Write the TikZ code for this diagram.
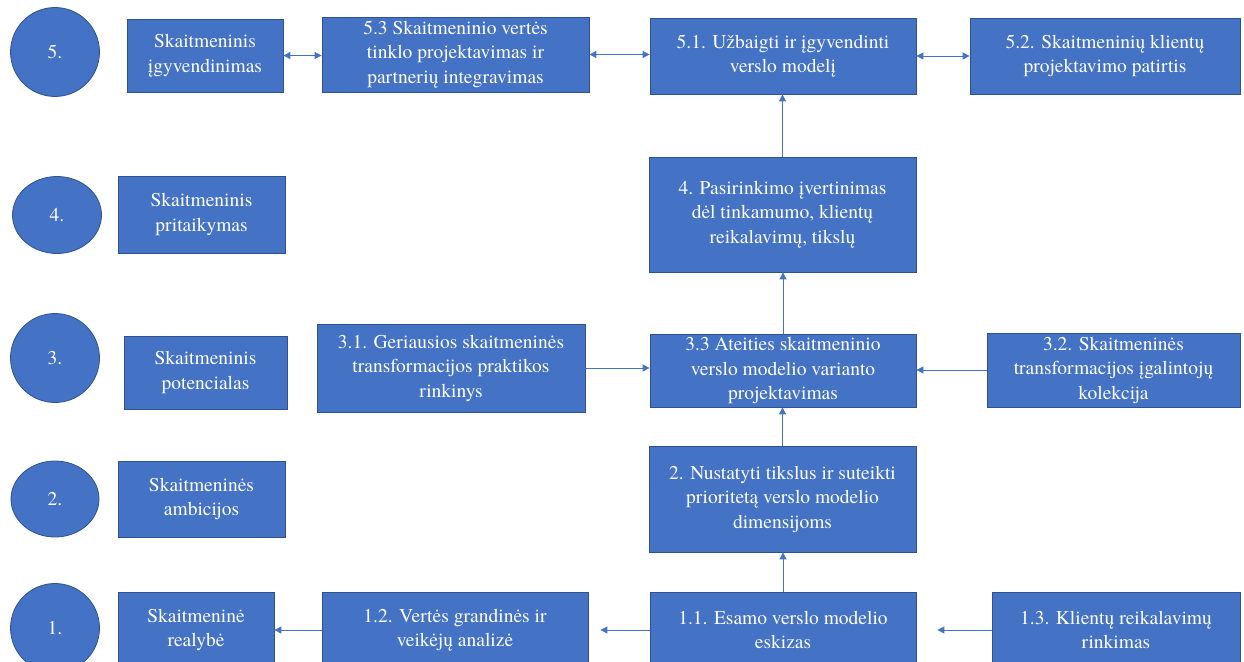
\documentclass[tikz,border=0pt]{standalone}
\usepackage{fontspec}
\setmainfont{texgyretermes}[Extension=.otf, UprightFont=*-regular, BoldFont=*-bold]
\usetikzlibrary{arrows.meta, shapes.geometric}
\definecolor{boxblue}{HTML}{4472C4}
\definecolor{boxedge}{HTML}{2F528F}

\begin{document}
\begin{tikzpicture}[x=1pt, y=-1pt,
  blok/.style={rectangle, draw=boxedge, fill=boxblue, text=white, align=center,
               inner sep=2pt, line width=0.8pt, font=\fontsize{19.5}{24.5}\selectfont},
  lygis/.style={ellipse, draw=boxedge, fill=boxblue, text=white, inner sep=0pt,
                line width=0.8pt, font=\fontsize{19.5}{24.5}\selectfont},
  arr/.style={-{Triangle[length=7pt, width=7pt]}, boxblue, line width=0.9pt},
  darr/.style={{Triangle[length=7pt, width=7pt]}-{Triangle[length=7pt, width=7pt]},
               boxblue, line width=0.9pt}]
  \useasboundingbox (0,0) rectangle (1244,661);
  \clip (0,0) rectangle (1244,661);

  % levels
  \node[lygis, minimum width=89pt, minimum height=89pt] (k5) at (55,52) {5.};
  \node[lygis, minimum width=89pt, minimum height=77pt] (k4) at (57,215) {4.};
  \node[lygis, minimum width=89pt, minimum height=89pt] (k3) at (55,358) {3.};
  \node[lygis, minimum width=88pt, minimum height=76pt] (k2) at (55,499) {2.};
  \node[lygis, minimum width=89pt, minimum height=89pt] (k1) at (55,628) {1.};

  % level names
  \node[blok, minimum width=156pt, minimum height=73pt] (l5) at (205,55.5) {Skaitmeninis\\įgyvendinimas};
  \node[blok, minimum width=167pt, minimum height=77pt] (l4) at (201.5,214.5) {Skaitmeninis\\pritaikymas};
  \node[blok, minimum width=163pt, minimum height=73pt] (l3) at (205.5,372.5) {Skaitmeninis\\potencialas};
  \node[blok, minimum width=167pt, minimum height=76pt] (l2) at (201.5,499) {Skaitmeninės\\ambicijos};
  \node[blok, minimum width=156pt, minimum height=76pt] (l1) at (196,630) {Skaitmeninė\\realybė};

  % row 5
  \node[blok, minimum width=267pt, minimum height=75pt] (m5) at (455.5,54.5)
       {5.3 Skaitmeninio vertės\\tinklo projektavimas ir\\partnerių integravimas};
  \node[blok, minimum width=266pt, minimum height=76pt] (c5) at (783,56)
       {5.1. Užbaigti ir įgyvendinti\\verslo modelį};
  \node[blok, minimum width=270pt, minimum height=76pt] (r5) at (1105,56)
       {5.2. Skaitmeninių klientų\\projektavimo patirtis};

  % row 4
  \node[blok, minimum width=267pt, minimum height=115pt] (c4) at (782.5,214.5)
       {4. Pasirinkimo įvertinimas\\dėl tinkamumo, klientų\\reikalavimų, tikslų};

  % row 3
  \node[blok, minimum width=268pt, minimum height=88pt] (m3) at (451,368)
       {3.1. Geriausios skaitmeninės\\transformacijos praktikos\\rinkinys};
  \node[blok, minimum width=266pt, minimum height=73pt] (c3) at (783,370.5)
       {3.3 Ateities skaitmeninio\\verslo modelio varianto\\projektavimas};
  \node[blok, minimum width=253pt, minimum height=74pt] (r3) at (1113.5,370)
       {3.2. Skaitmeninės\\transformacijos įgalintojų\\kolekcija};

  % row 2
  \node[blok, minimum width=267pt, minimum height=106pt] (c2) at (782.5,499)
       {2. Nustatyti tikslus ir suteikti\\prioritetą verslo modelio\\dimensijoms};

  % row 1
  \node[blok, minimum width=266pt, minimum height=76pt] (m1) at (455,630)
       {1.2. Vertės grandinės ir\\veikėjų analizė};
  \node[blok, minimum width=266pt, minimum height=76pt] (c1) at (783,630)
       {1.1. Esamo verslo modelio\\eskizas};
  \node[blok, minimum width=248pt, minimum height=76pt] (r1) at (1116,630)
       {1.3. Klientų reikalavimų\\rinkimas};

  % connectors
  \draw[darr] (l5.east) -- (l5.east -| m5.west);
  \draw[darr] (m5.east) -- (m5.east -| c5.west);
  \draw[darr] (c5.east) -- (c5.east -| r5.west);
  \draw[arr] (c4.north) -- (c4.north |- c5.south);
  \draw[arr] (c3.north) -- (c3.north |- c4.south);
  \draw[arr] (m3.east) -- (m3.east -| c3.west);
  \draw[arr] (r3.west) -- (r3.west -| c3.east);
  \draw[arr] (c2.north) -- (c2.north |- c3.south);
  \draw[arr] (c1.north) -- (c1.north |- c2.south);
  \draw[arr, shorten >=12pt] (c1.west) -- (c1.west -| m1.east);
  \draw[arr] (m1.west) -- (m1.west -| l1.east);
  \draw[arr, shorten >=21pt] (r1.west) -- (r1.west -| c1.east);
\end{tikzpicture}
\end{document}
